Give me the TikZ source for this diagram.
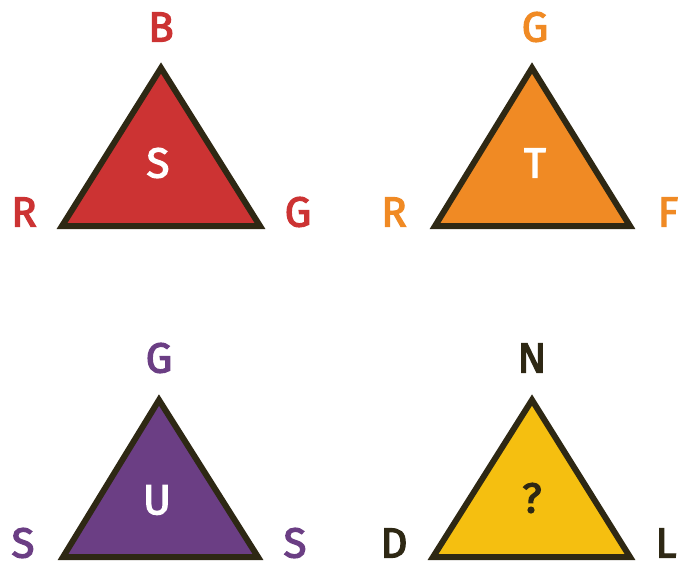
\documentclass[tikz,border=0pt]{standalone}
\usepackage{fontspec}
\setmainfont{Fira Sans}
\newfontfamily\lblfont{Fira Sans}[FakeBold=3]
\definecolor{cred}{HTML}{CC3333}
\definecolor{corange}{HTML}{F08A24}
\definecolor{cpurple}{HTML}{6B3E84}
\definecolor{cyellow}{HTML}{F5BF10}
\definecolor{cdark}{HTML}{2E2814}
\tikzset{
  tri/.style={draw=cdark, line width=6pt, line join=miter},
  lbl/.style={inner sep=0pt, anchor=center, font=\lblfont\fontsize{42}{42}\selectfont},
}
\begin{document}
\begin{tikzpicture}[x=1pt,y=-1pt]
\useasboundingbox (0,0) rectangle (684,564);
% triangle 1
\coordinate (t1a) at (161,68);
\coordinate (t1b) at (62,226);
\coordinate (t1c) at (260,226);
\filldraw[tri, fill=cred] (t1a) -- (t1b) -- (t1c) -- cycle;
\node[lbl, text=cred] (l1t) at (161,27) {B};
\node[lbl, text=cred] (l1l) at (24,212) {R};
\node[lbl, text=cred] (l1r) at (298,212) {G};
\node[lbl, text=white] (l1c) at (158,163) {S};
% triangle 2
\coordinate (t2a) at (532,68);
\coordinate (t2b) at (435,226);
\coordinate (t2c) at (630,226);
\filldraw[tri, fill=corange] (t2a) -- (t2b) -- (t2c) -- cycle;
\node[lbl, text=corange] (l2t) at (535,27) {G};
\node[lbl, text=corange] (l2l) at (394,212) {R};
\node[lbl, text=corange] (l2r) at (668,212) {F};
\node[lbl, text=white] (l2c) at (535,163) {T};
% triangle 3
\coordinate (t3a) at (159,400);
\coordinate (t3b) at (63,557);
\coordinate (t3c) at (258,557);
\filldraw[tri, fill=cpurple] (t3a) -- (t3b) -- (t3c) -- cycle;
\node[lbl, text=cpurple] (l3t) at (159,358) {G};
\node[lbl, text=cpurple] (l3l) at (23,543) {S};
\node[lbl, text=cpurple] (l3r) at (295,543) {S};
\node[lbl, text=white] (l3c) at (157,500) {U};
% triangle 4
\coordinate (t4a) at (532,400);
\coordinate (t4b) at (433,557);
\coordinate (t4c) at (630,557);
\filldraw[tri, fill=cyellow] (t4a) -- (t4b) -- (t4c) -- cycle;
\node[lbl, text=cdark] (l4t) at (532,358) {N};
\node[lbl, text=cdark] (l4l) at (394,543) {D};
\node[lbl, text=cdark] (l4r) at (666,543) {L};
\node[lbl, text=cdark] (l4c) at (532,498) {?};
\end{tikzpicture}
\end{document}
